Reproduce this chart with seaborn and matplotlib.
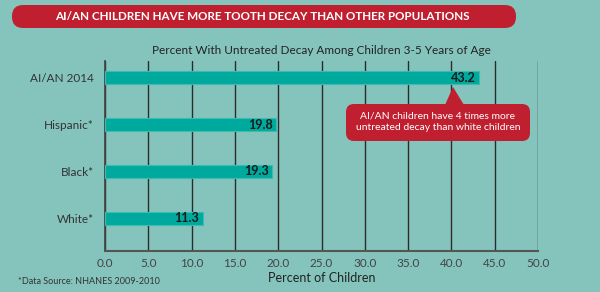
import numpy as np
import pandas as pd
import seaborn as sns
import matplotlib.pyplot as plt
from matplotlib.patches import FancyBboxPatch, Polygon
from matplotlib.transforms import IdentityTransform

groups = ['AI/AN 2014', 'Hispanic*', 'Black*', 'White*']
decay = [43.2, 19.8, 19.3, 11.3]
ticks = [0, 5, 10, 15, 20, 25, 30, 35, 40, 45, 50]

bg = '#84c4bc'
teal = '#00a99d'
red = '#c01f30'
dark = '#2b2b2b'
H = 292  # figure height in px, to flip y for pixel placement

df = pd.DataFrame({'group': groups, 'pct': decay})

sns.set_theme(style='white')
plt.rcParams['font.family'] = ['Lato', 'DejaVu Sans']

fig = plt.figure(figsize=(6, 2.92), dpi=100, facecolor=bg)
ax = fig.add_axes([105/600, 1 - 251/H, 433/600, 190/H])
ax.set_facecolor(bg)
ax.set_axisbelow(True)

sns.barplot(data=df, y='group', x='pct', orient='h', color=teal,
            width=0.28, saturation=1, edgecolor='#3bbcb0', linewidth=0.8,
            ax=ax, zorder=3)

ax.set_xlim(0, 50)
ax.set_ylim(3.7, -0.36)
ax.set_xticks(ticks)
ax.set_xticklabels(['%.1f' % t for t in ticks], color='#444444', fontsize=8.5)
ax.tick_params(axis='x', length=0, pad=5)
ax.tick_params(axis='y', length=0, pad=8, labelsize=8.5, labelcolor='#333333')
ax.grid(True, axis='x', color=dark, lw=1)
ax.grid(False, axis='y')
for s in ['top', 'right']:
    ax.spines[s].set_visible(False)
ax.spines['left'].set_color('#444444')
ax.spines['bottom'].set_color('#555555')
ax.spines['bottom'].set_linewidth(1.5)
ax.set_ylabel('')
ax.set_xlabel('Percent of Children', fontsize=9, color='#222222', labelpad=2)

for i, v in enumerate(decay):
    ax.text(v - 0.4, i, '%.1f' % v, ha='right', va='center', fontsize=9,
            fontweight='bold', color='#1a1a1a', zorder=4)

px = IdentityTransform()

# title banner
fig.patches.append(FancyBboxPatch((12, H - 28), 504, 23,
                                  boxstyle='round,pad=0,rounding_size=11',
                                  transform=px, facecolor=red, edgecolor='none'))
fig.text(262/600, 1 - 16.5/H, 'AI/AN CHILDREN HAVE MORE TOOTH DECAY THAN OTHER POPULATIONS',
         ha='center', va='center', color='white', fontsize=8.4, fontweight='bold')

fig.text(321/600, 1 - 50/H, 'Percent With Untreated Decay Among Children 3-5 Years of Age',
         ha='center', va='center', color='#222222', fontsize=8.5)

fig.text(18/600, 1 - 281/H, '*Data Source: NHANES 2009-2010', ha='left', va='center',
         color='#333333', fontsize=6.5)

# callout
fig.patches.append(FancyBboxPatch((346, H - 141), 184, 37,
                                  boxstyle='round,pad=0,rounding_size=8',
                                  transform=px, facecolor=red, edgecolor='none'))
fig.patches.append(Polygon([(445, H - 105), (453, H - 87), (464, H - 105)],
                           closed=True, transform=px, facecolor=red, edgecolor='none'))
fig.text(438/600, 1 - 122/H, 'AI/AN children have 4 times more\nuntreated decay than white children',
         ha='center', va='center', color='white', fontsize=7.5, linespacing=1.3)

fig.savefig('out.png', dpi=100, facecolor=bg)
